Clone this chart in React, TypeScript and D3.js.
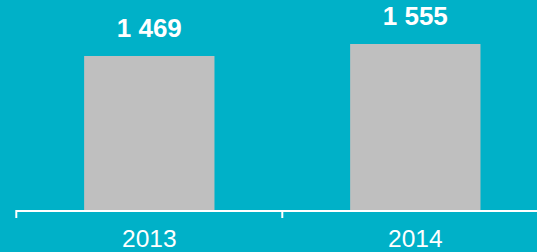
import React from "react";
import { scaleBand, scaleLinear } from "d3";

const years = ["2013", "2014"];
const values = [1469, 1555];
const valueLabels = ["1 469", "1 555"];

const W = 537;
const H = 252;
const baseY = 210;
const yFloor = 365;

export default function App() {
  const x = scaleBand<string>()
    .domain(years)
    .range([16.3, 548.3])
    .paddingInner(0.51)
    .paddingOuter(0.255);

  const y = scaleLinear().domain([yFloor, 1555]).range([baseY, 44]);

  const step = x.step();
  const bandStart = (k: string) => (x(k) ?? 0) - x.paddingOuter() * step;

  return (
    <svg
      width={W}
      height={H}
      style={{ position: "absolute", left: 0, top: 0, display: "block" }}
      fontFamily="'Liberation Sans', Arial, sans-serif"
    >
      <rect x={0} y={0} width={W} height={H} fill="#00B1C8" />
      {years.map((yr, i) => {
        const bx = x(yr) ?? 0;
        const top = y(values[i]);
        return (
          <g key={yr}>
            <rect x={bx} y={top} width={x.bandwidth()} height={baseY - top} fill="#BFBFBF" />
            <text
              x={bx + x.bandwidth() / 2}
              y={top - 19}
              textAnchor="middle"
              fill="#fff"
              fontWeight="bold"
              fontSize={26}
            >
              {valueLabels[i]}
            </text>
            <text x={bx + x.bandwidth() / 2} y={246.5} textAnchor="middle" fill="#fff" fontSize={24.5}>
              {yr}
            </text>
          </g>
        );
      })}
      {/* axis */}
      <line x1={bandStart(years[0])} x2={W} y1={211} y2={211} stroke="#fff" strokeWidth={2} />
      {years.map((yr) => (
        <line
          key={yr}
          x1={bandStart(yr)}
          x2={bandStart(yr)}
          y1={210}
          y2={218}
          stroke="#fff"
          strokeWidth={2}
        />
      ))}
    </svg>
  );
}
